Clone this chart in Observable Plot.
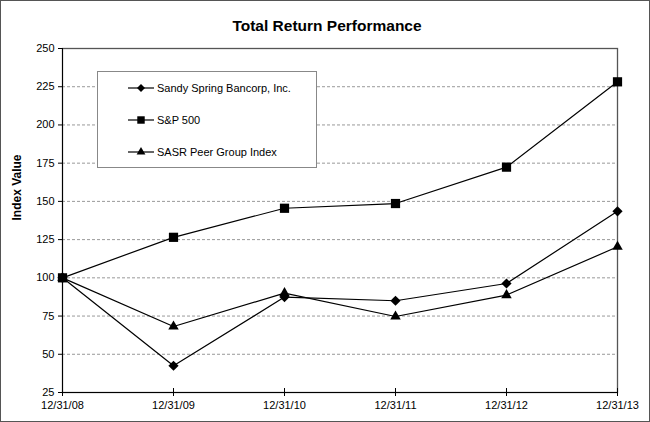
<!DOCTYPE html>
<html>
<head>
<meta charset="utf-8">
<script src="https://cdn.jsdelivr.net/npm/d3@7"></script>
<script src="https://cdn.jsdelivr.net/npm/@observablehq/plot@0.6"></script>
<style>
  html, body { margin: 0; padding: 0; background: #fff; }
  #wrap { position: relative; width: 650px; height: 422px; box-sizing: border-box; border: 1px solid #555; font-family: "Liberation Sans", Arial, sans-serif; background: #fff; overflow: hidden; }
  #title { height: 39px; line-height: 50px; text-align: center; font-weight: bold; font-size: 15.5px; color: #000; padding-left: 4px; }
  #legend { position: absolute; left: 96px; top: 70px; width: 220px; height: 97px; box-sizing: border-box; border: 1px solid #888; background: #fff; }
  .row { position: absolute; left: 0; height: 16px; display: flex; align-items: center; font-size: 11px; color: #000; }
  .row svg { margin-left: 30px; margin-right: 3px; }
</style>
</head>
<body>
<div id="wrap">
  <div id="title">Total Return Performance</div>
  <div id="chart"></div>
  <div id="legend"></div>
</div>
<script>
const dates = ["12/31/08", "12/31/09", "12/31/10", "12/31/11", "12/31/12", "12/31/13"];
const seriesNames = ["Sandy Spring Bancorp, Inc.", "S&P 500", "SASR Peer Group Index"];
const sandySpring = [100, 42.5, 87.4, 85.0, 96.3, 143.5];
const sp500 = [100, 126.5, 145.5, 148.6, 172.4, 228.2];
const peerGroup = [100, 68.2, 90.0, 74.7, 88.7, 120.3];
const yTicks = [25, 50, 75, 100, 125, 150, 175, 200, 225, 250];
const gridTicks = [50, 75, 100, 125, 150, 175, 200, 225];

const symbols = ["diamond2", "square", "triangle2"];
const radii = [4.6, 5.2, 5.0];
const valueSets = [sandySpring, sp500, peerGroup];

const rows = [];
valueSets.forEach((vals, i) => vals.forEach((v, j) => rows.push({series: seriesNames[i], date: dates[j], value: v, sym: symbols[i], r: radii[i]})));

const chart = Plot.plot({
  width: 648,
  height: 381,
  marginLeft: 61,
  marginRight: 32,
  marginTop: 8,
  marginBottom: 29,
  style: {fontFamily: "Liberation Sans, Arial, sans-serif", fontSize: "11px", color: "#000", background: "#fff"},
  x: {type: "point", domain: dates, padding: 0, label: null},
  y: {domain: [25, 250], label: null},
  r: {type: "identity"},
  marks: [
    Plot.ruleY(gridTicks, {stroke: "#999", strokeDasharray: "3,2", strokeWidth: 1}),
    Plot.frame({stroke: "#555", strokeWidth: 1.3}),
    Plot.axisY({ticks: yTicks, tickSize: 4, tickPadding: 4, stroke: "#000", label: null}),
    Plot.ruleX([dates[0]], {stroke: "#000", strokeWidth: 1}),
    Plot.ruleY([25], {stroke: "#000", strokeWidth: 1}),
    Plot.ruleX(dates, {y1: 25, y2: 27.6, stroke: "#000"}),
    Plot.axisX({ticks: dates, tickSize: 4, tickPadding: 5, label: null, anchor: "bottom"}),
    Plot.text(["Index Value"], {frameAnchor: "left", rotate: -90, dx: -45, fontWeight: "bold", fontSize: 12}),
    Plot.line(rows, {x: "date", y: "value", z: "series", stroke: "#000", strokeWidth: 1.2}),
    Plot.dot(rows, {x: "date", y: "value", symbol: d => d.sym, r: "r", fill: "#000", stroke: "none"})
  ]
});
document.getElementById("chart").appendChild(chart);

// Legend
const legend = document.getElementById("legend");
const tops = [8, 40, 72];
const symbolGens = [d3.symbol(d3.symbolDiamond2, Math.PI * 3.6 * 3.6), d3.symbol(d3.symbolSquare, Math.PI * 4.2 * 4.2), d3.symbol(d3.symbolTriangle2, Math.PI * 4.2 * 4.2)];
seriesNames.forEach((name, i) => {
  const row = document.createElement("div");
  row.className = "row";
  row.style.top = tops[i] + "px";
  const svg = d3.create("svg").attr("width", 26).attr("height", 14);
  svg.append("line").attr("x1", 0).attr("x2", 26).attr("y1", 7).attr("y2", 7).attr("stroke", "#000").attr("stroke-width", 1.2);
  svg.append("path").attr("d", symbolGens[i]()).attr("transform", "translate(13,7)").attr("fill", "#000");
  row.appendChild(svg.node());
  const span = document.createElement("span");
  span.textContent = name;
  row.appendChild(span);
  legend.appendChild(row);
});
</script>
</body>
</html>
